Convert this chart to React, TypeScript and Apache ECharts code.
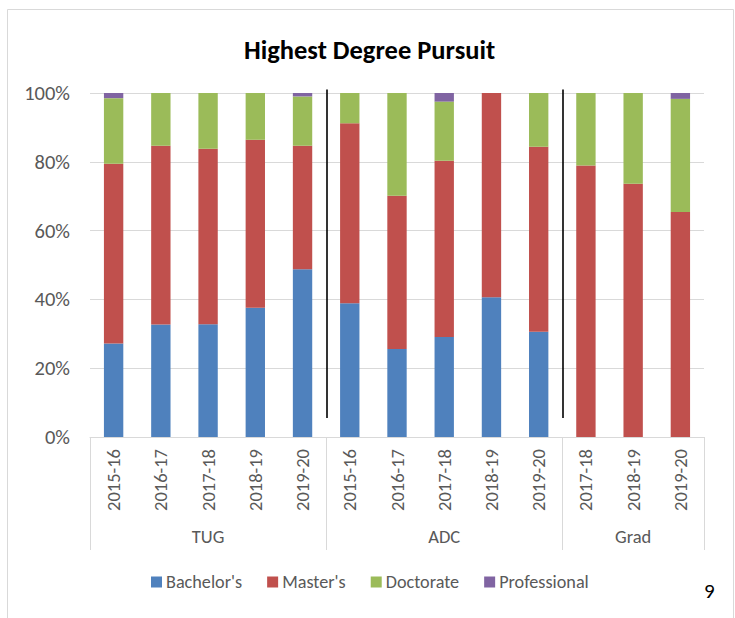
import React, { useEffect, useRef } from "react";
import * as echarts from "echarts";

const groups = ["TUG", "ADC", "Grad"];
const groupYears = [
  ["2015-16", "2016-17", "2017-18", "2018-19", "2019-20"],
  ["2015-16", "2016-17", "2017-18", "2018-19", "2019-20"],
  ["2017-18", "2018-19", "2019-20"],
];
const seriesNames = ["Bachelor's", "Master's", "Doctorate", "Professional"];
const bachelors = [27.2, 32.7, 32.8, 37.6, 48.8, 38.9, 25.6, 29.1, 40.6, 30.6, 0, 0, 0];
const masters = [52.2, 52.0, 51.0, 48.8, 35.9, 52.3, 44.5, 51.2, 59.4, 53.8, 78.9, 73.6, 65.4];
const doctorate = [19.1, 15.3, 16.2, 13.6, 14.3, 8.8, 29.9, 17.2, 0, 15.6, 21.1, 26.4, 32.9];
const professional = [1.5, 0, 0, 0, 1.0, 0, 0, 2.5, 0, 0, 0, 0, 1.7];
const yTickValues = [0, 20, 40, 60, 80, 100];
const titleText = "Highest Degree Pursuit";
const pageNumber = "9";

const colors = ["#4F81BD", "#C0504D", "#9BBB59", "#8064A2"];
const FONT = "Carlito, Lato, 'Open Sans', sans-serif";
const GRAY_TEXT = "#595959";
const GRID_GRAY = "#d9d9d9";

export default function App() {
  const ref = useRef<HTMLDivElement>(null);

  useEffect(() => {
    document.body.style.margin = "0";
    if (!ref.current) return;
    const chart = echarts.init(ref.current, undefined, { renderer: "svg" });

    const categories: string[] = [];
    const groupStarts: number[] = [];
    const groupMids: number[] = [];
    groups.forEach((g, gi) => {
      groupStarts.push(categories.length);
      groupMids.push(categories.length + Math.floor(groupYears[gi].length / 2));
      groupYears[gi].forEach((y) => categories.push(g + "|" + y));
    });

    const values = [bachelors, masters, doctorate, professional];

    const barSeries = seriesNames.map((name, i) => ({
      name,
      type: "bar",
      stack: "total",
      barWidth: "41%",
      data: values[i],
      itemStyle: { color: colors[i] },
      emphasis: { disabled: true },
      xAxisIndex: 0,
      yAxisIndex: 0,
    }));

    const separatorSeries = {
      name: "sep",
      type: "custom",
      xAxisIndex: 0,
      yAxisIndex: 0,
      silent: true,
      clip: false,
      encode: { x: 0, y: 1 },
      data: groupStarts.slice(1).map((i) => [i, 0]),
      renderItem: (params: any, api: any) => {
        const idx = api.value(0);
        const band = api.size([1, 0])[0];
        const top = api.coord([idx, 101]);
        const bottom = api.coord([idx, 5.5]);
        const x = Math.round(top[0] - band / 2) + 1;
        return {
          type: "line",
          shape: { x1: x, y1: top[1], x2: x, y2: bottom[1] },
          style: { stroke: "#000", lineWidth: 1.6 },
        };
      },
    };

    chart.setOption({
      animation: false,
      textStyle: { fontFamily: FONT },
      title: {
        text: titleText,
        left: 239,
        top: 31,
        textStyle: { fontFamily: FONT, fontWeight: "bold", fontSize: 26.5, color: "#000" },
      },
      legend: {
        data: seriesNames,
        left: 146,
        top: 568,
        itemWidth: 11,
        itemHeight: 11,
        itemGap: 25,
        icon: "rect",
        textStyle: { fontFamily: FONT, fontSize: 18.2, color: GRAY_TEXT, padding: [0, 0, 0, -1] },
      },
      grid: { left: 90, right: 31, top: 93, bottom: 181, containLabel: false },
      xAxis: [
        {
          type: "category",
          data: categories,
          position: "bottom",
          axisLine: { show: true, lineStyle: { color: GRID_GRAY, width: 1 } },
          axisTick: {
            show: true,
            length: 113,
            interval: (i: number) => groupStarts.includes(i),
            lineStyle: { color: GRID_GRAY, width: 1 },
          },
          axisLabel: {
            interval: 0,
            rotate: 90,
            margin: 12,
            color: GRAY_TEXT,
            fontSize: 18.5,
            fontFamily: FONT,
            formatter: (v: string) => v.split("|")[1],
          },
          splitLine: { show: false },
        },
        {
          type: "category",
          data: categories,
          position: "bottom",
          axisLine: { show: false },
          axisTick: { show: false },
          axisLabel: {
            interval: (i: number) => groupMids.includes(i),
            margin: 90,
            color: GRAY_TEXT,
            fontSize: 18.5,
            fontFamily: FONT,
            formatter: (v: string) => v.split("|")[0],
          },
          splitLine: { show: false },
        },
      ],
      yAxis: {
        type: "value",
        min: yTickValues[0],
        max: yTickValues[yTickValues.length - 1],
        interval: yTickValues[1] - yTickValues[0],
        axisLine: { show: false },
        axisTick: { show: false },
        axisLabel: {
          formatter: "{value}%",
          margin: 20,
          color: GRAY_TEXT,
          fontSize: 20.5,
          fontFamily: FONT,
        },
        splitLine: { lineStyle: { color: GRID_GRAY, width: 1 } },
      },
      graphic: [
        {
          type: "rect",
          left: 5,
          top: 7,
          shape: { width: 726, height: 609 },
          style: { fill: "none", stroke: GRID_GRAY, lineWidth: 1 },
          silent: true,
          z: -10,
        },
        {
          type: "text",
          left: 704,
          top: 580,
          style: { text: pageNumber, fontSize: 21, fontFamily: FONT, fill: "#000" },
          silent: true,
        },
      ],
      series: [...barSeries, separatorSeries],
    });

    return () => {
      chart.dispose();
    };
  }, []);

  return <div ref={ref} style={{ width: 735, height: 618 }} />;
}
